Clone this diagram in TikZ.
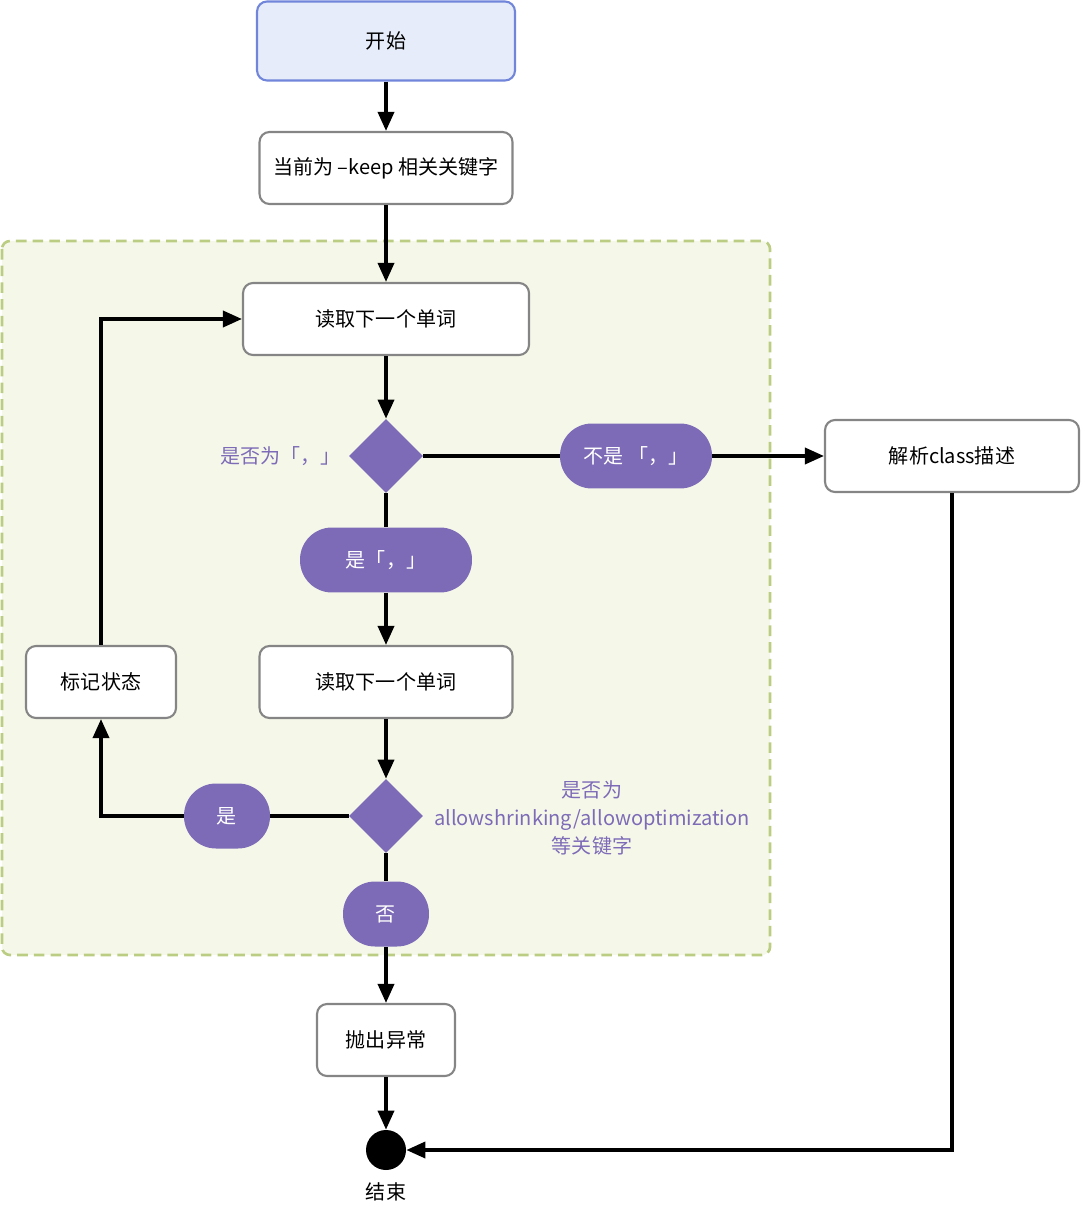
\documentclass[tikz,border=0pt]{standalone}
\usepackage{fontspec}
\setmainfont{Noto Sans CJK SC}
\usetikzlibrary{arrows.meta,positioning,shapes.geometric}
\definecolor{boxline}{HTML}{858585}
\definecolor{startfill}{HTML}{E6ECF9}
\definecolor{startline}{HTML}{7186DA}
\definecolor{pillpurple}{HTML}{7D6BB7}
\definecolor{zonefill}{HTML}{F5F8E9}
\definecolor{zoneline}{HTML}{BBCD82}
\tikzset{
process/.style={draw=boxline,line width=1.2pt,rounded corners=.2cm,fill=white,minimum height=1.44cm,align=center,font=\fontsize{11.4pt}{16pt}\selectfont},
begin/.style={process,draw=startline,fill=startfill,minimum width=5.16cm,minimum height=1.58cm},
decision/.style={draw=none,diamond,fill=pillpurple,minimum width=1.48cm,minimum height=1.48cm,inner sep=0pt},
branch/.style={fill=pillpurple,text=white,rounded corners=.64cm,minimum height=1.3cm,align=center,font=\fontsize{11.4pt}{16pt}\selectfont},
note/.style={text=pillpurple,align=center,font=\fontsize{11.4pt}{16pt}\selectfont},
finish/.style={circle,fill=black,minimum size=.8cm,inner sep=0pt},
flow/.style={-{Triangle[length=.38cm,width=.32cm]},line width=2pt},
link/.style={line width=2pt}
}
\begin{document}
\begin{tikzpicture}[x=.02cm,y=-.02cm]
\useasboundingbox (0,0) rectangle (1080,1212);
\draw[zoneline,fill=zonefill,line width=1.5pt,dash pattern=on 6pt off 3.5pt,rounded corners=.16cm](2,241) rectangle (770,955);
\node[begin](start) at (386,41){开始};
\node[process,minimum width=5.06cm](keep) at (386,168){当前为 –keep 相关关键字};
\node[process,minimum width=5.72cm](read1) at (386,319){读取下一个单词};
\node[decision](comma) at (386,456){};
\node[note,left=.04cm of comma](commaq){是否为「，」};
\node[branch,minimum width=3.04cm](notcomma) at (636,456){不是 「，」};
\node[process,minimum width=5.08cm](parse) at (952,456){解析class描述};
\node[branch,minimum width=3.44cm](iscomma) at (386,560){是「，」};
\node[process,minimum width=5.06cm](read2) at (386,682){读取下一个单词};
\node[process,minimum width=3cm](mark) at (101,682){标记状态};
\node[decision](keyword) at (386,816){};
\node[note](keywordq) at (592,818){是否为\\allowshrinking/allowoptimization\\等关键字};
\node[branch,minimum width=1.72cm](yes) at (227,816){是};
\node[branch,minimum width=1.72cm](no) at (386,914){否};
\node[process,minimum width=2.76cm](throw) at (386,1040){抛出异常};
\node[finish](end) at (386,1150){};
\node[font=\fontsize{11.4pt}{16pt}\selectfont](endtext) at (386,1192){结束};
\draw[flow](start)--(keep);\draw[flow](keep)--(read1);\draw[flow](read1)--(comma);
\draw[link](comma)--(notcomma);\draw[flow](notcomma)--(parse);
\draw[link](comma)--(iscomma);\draw[flow](iscomma)--(read2);
\draw[flow](read2)--(keyword);
\draw[link](keyword)--(yes);\draw[flow](yes)-|(mark);\draw[flow](mark)|-(read1);
\draw[link](keyword)--(no);\draw[flow](no)--(throw);
\draw[flow](throw)--(end);\draw[flow](parse)|-(end);
\end{tikzpicture}
\end{document}
